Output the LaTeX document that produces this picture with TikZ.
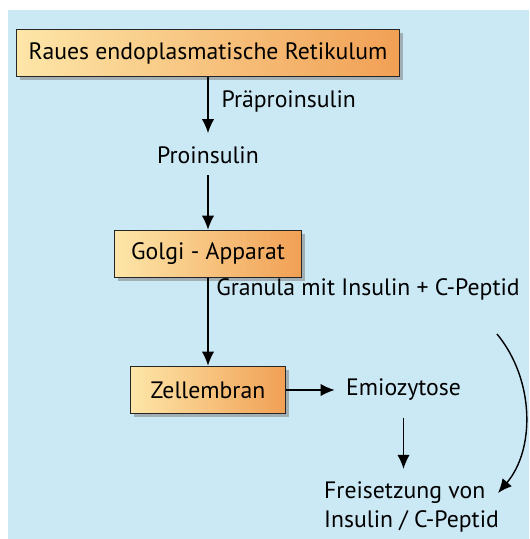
\documentclass[tikz,border=0pt]{standalone}
\usepackage{fontspec}
\setmainfont{PT Sans}
\usetikzlibrary{arrows.meta,positioning,shadows}
\definecolor{bgblue}{RGB}{203,233,245}
\definecolor{boxlight}{RGB}{253,230,168}
\definecolor{boxdark}{RGB}{241,160,85}

\begin{document}
\begin{tikzpicture}[
  x=0.02cm,y=-0.02cm,
  font=\fontsize{13.5}{16}\selectfont,
  box/.style={draw=black!85,line width=0.9pt,left color=boxlight,right color=boxdark,
    minimum height=0.94cm,drop shadow={shadow xshift=2pt,shadow yshift=-2pt,opacity=0.55}},
  arr/.style={-{Latex[length=8pt,width=7pt]},line width=0.8pt},
]
\useasboundingbox (0,0) rectangle (529,539);
\fill[bgblue] (8,10) rectangle (529,539);

\node[box,minimum width=7.66cm] (rer) at (208,53) {Raues endoplasmatische Retikulum};
\node (pro) at (208,155) {Proinsulin};
\node[box,minimum width=3.74cm] (golgi) at (208,254) {Golgi - Apparat};
\node[box,minimum width=3.1cm] (zell) at (208,390) {Zellembran};
\node[anchor=west] (emio) at (340,390) {Emiozytose};
\node[anchor=west,align=left] (frei) at (318,507) {Freisetzung von\\Insulin / C-Peptid};
\coordinate (bogena) at (497,334);
\coordinate (bogenb) at (498,493);

\draw[arr,shorten >=4pt] (rer) -- (pro) node[pos=0.38,anchor=west,xshift=4pt] {Präproinsulin};
\draw[arr,shorten <=3pt] (pro) -- (golgi);
\draw[arr] (golgi) -- (zell) node[pos=0.13,anchor=west,xshift=1pt] (gran) {Granula mit Insulin + C-Peptid};
\draw[arr,shorten >=3pt] (zell) -- (emio);
\draw[arr,shorten <=6pt,shorten >=4pt] (emio.south) -- (emio.south |- frei.north);
\draw[arr] (bogena) .. controls (535,380) and (535,450) .. (bogenb);

\end{tikzpicture}
\end{document}
